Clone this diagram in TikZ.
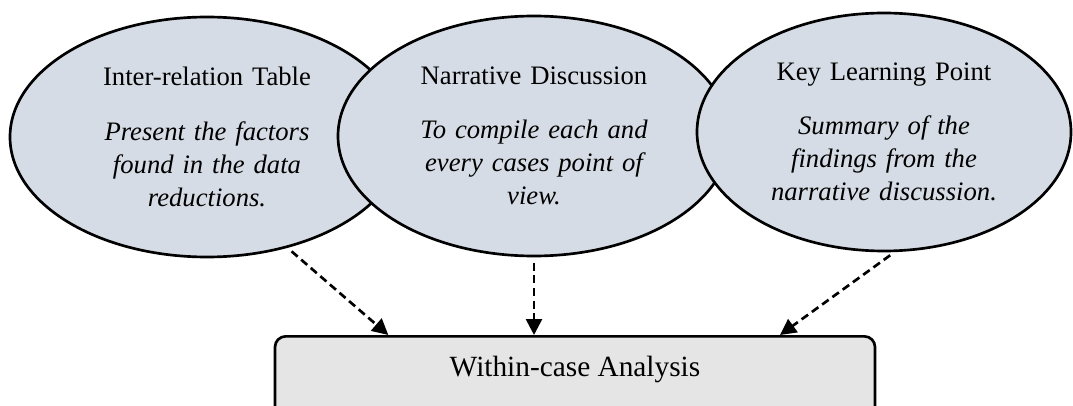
\documentclass[tikz,border=0pt]{standalone}
\usepackage{fontspec}
\setmainfont{Liberation Serif}
\usetikzlibrary{shapes.geometric,arrows.meta}

\definecolor{bubblefill}{HTML}{D6DCE5}
\definecolor{resultfill}{HTML}{E5E5E5}

\begin{document}
\begin{tikzpicture}[
x=.75pt, y=-.75pt,
bubble/.style={ellipse, draw, line width=2pt, fill=bubblefill, inner sep=0pt, text width=175pt, align=center, font=\fontsize{20}{24.75}\selectfont},
result/.style={rectangle, rounded corners=8pt, draw, line width=2pt, fill=resultfill, minimum width=450pt, inner ysep=0pt, text height=30pt, text depth=50pt, font=\fontsize{22}{26}\selectfont},
link/.style={line width=2pt, dash pattern=on 6pt off 3.5pt, shorten <=4pt, -{Triangle[length=12pt,width=12pt]}}
]

\useasboundingbox (0,0) rectangle (1073,406);

%%% Bubbles
\foreach \name/\x/\y/\bw/\bh/\head/\body in {
	e1/207/137/295.5/180/{Inter-relation Table}/{Present the factors\\found in the data\\reductions.},
	e2/534/136/294/180/{Narrative Discussion}/{To compile each and\\every cases point of\\view.},
	e3/884/132/280.5/178.5/{Key Learning Point}/{Summary of the\\findings from the\\narrative discussion.}
	}{
	\node[bubble, minimum width=\bw pt, minimum height=\bh pt] (\name) at (\x,\y) {\head\\[16pt]\itshape\body};
	}

%%% Result
\node[result, anchor=north] (w) at (575,335) {Within-case Analysis};

%%% Links
\draw[link] (e1.-54) -- ([xshift=-140pt]w.north);
\draw[link] (e2.south) -- (e2.south |- w.north);
\draw[link] (e3.-85) -- ([xshift=153.75pt]w.north);

\end{tikzpicture}
\end{document}
